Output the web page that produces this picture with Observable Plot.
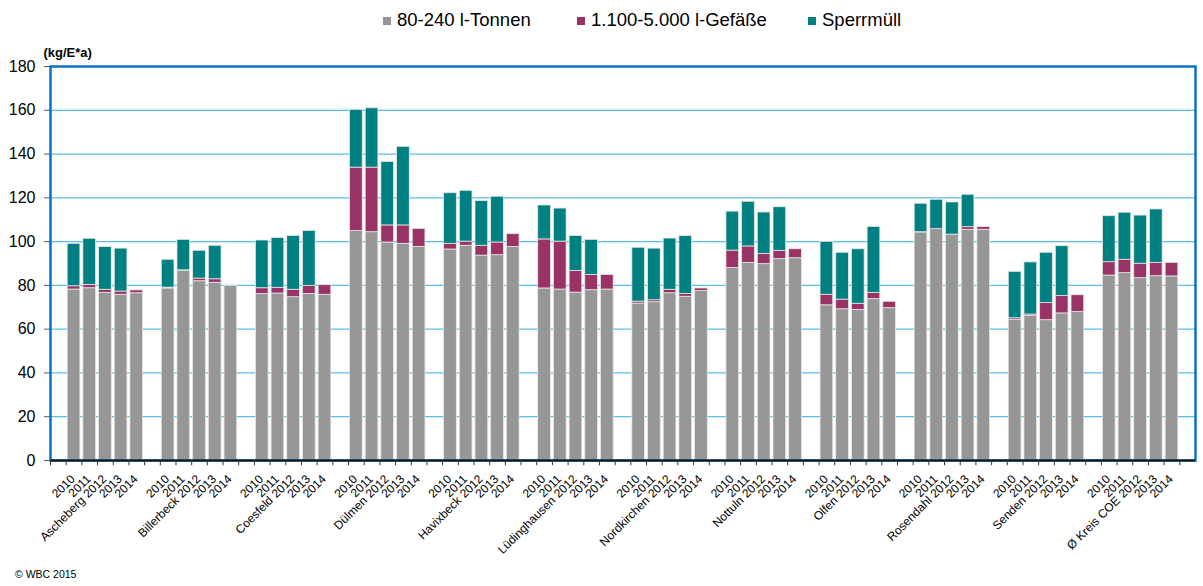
<!DOCTYPE html>
<html>
<head>
<meta charset="utf-8">
<script src="https://cdn.jsdelivr.net/npm/d3@7"></script>
<script src="https://cdn.jsdelivr.net/npm/@observablehq/plot@0.6"></script>
<style>
  body { margin: 0; background: #fff; font-family: "Liberation Sans", Arial, sans-serif; width: 1203px; height: 586px; position: relative; overflow: hidden; }
  #legend { position: relative; height: 38px; }
  .item { position: absolute; top: 9px; display: flex; align-items: center; font-size: 18.5px; color: #000; white-space: nowrap; }
  .sw { width: 8px; height: 8px; margin-right: 6px; margin-top: 2px; }
  #caption { position: absolute; left: 15px; top: 568px; font-size: 10.5px; color: #000; }
</style>
</head>
<body>
<div id="legend"></div>
<div id="chart"></div>
<div id="caption">© WBC 2015</div>
<script>
const groups = ["Ascheberg","Billerbeck","Coesfeld","Dülmen","Havixbeck","Lüdinghausen","Nordkirchen","Nottuln","Olfen","Rosendahl","Senden","Ø Kreis COE"];
const years = ["2010","2011","2012","2013","2014"];
const seriesNames = ["80-240 l-Tonnen","1.100-5.000 l-Gefäße","Sperrmüll"];
const seriesColors = ["#969696","#993366","#008080"];
const yTicks = [0,20,40,60,80,100,120,140,160,180];

// 80-240 l-Tonnen (kg/E*a), per group, years 2010-2014
const tonnen = [
  [78.1,78.7,76.6,75.7,76.4],
  [78.6,86.8,81.9,81.2,79.8],
  [76.0,76.3,74.6,76.1,75.7],
  [104.8,104.3,99.6,99.0,97.6],
  [96.4,98.1,93.6,93.8,97.5],
  [78.6,78.1,76.7,77.8,78.1],
  [71.7,72.3,76.4,74.8,77.4],
  [87.9,90.3,89.7,92.0,92.4],
  [70.9,69.1,68.8,73.7,69.6],
  [104.2,105.7,103.2,105.4,105.4],
  [64.3,66.1,64.1,67.2,67.8],
  [84.5,85.6,83.3,84.2,84.1]
];
// 1.100-5.000 l-Gefäße
const gefaesse = [
  [1.5,1.5,1.4,1.5,1.3],
  [0.4,0.1,1.2,1.6,0],
  [2.7,2.6,3.4,3.7,4.4],
  [29.0,29.5,7.8,8.4,8.2],
  [2.6,1.9,4.5,5.8,5.9],
  [22.4,21.9,9.9,7.0,6.7],
  [0.9,0.9,1.6,1.3,1.2],
  [8.0,7.5,4.7,3.8,4.1],
  [4.8,4.4,2.8,2.9,2.9],
  [0.1,0,0,1.2,1.2],
  [0.7,0.6,7.9,8.0,7.7],
  [6.1,6.1,6.6,6.1,6.2]
];
// Sperrmüll
const sperrmuell = [
  [19.4,21.1,19.5,19.6,0],
  [12.7,13.9,12.7,15.3,0],
  [21.8,22.7,24.6,25.1,0],
  [26.4,27.1,29.0,35.9,0],
  [23.1,23.2,20.4,20.9,0],
  [15.5,15.1,16.0,16.0,0],
  [24.6,23.6,23.4,26.4,0],
  [17.8,20.4,18.9,19.9,0],
  [24.2,21.4,24.9,30.1,0],
  [13.0,13.4,14.7,14.8,0],
  [21.2,23.8,22.9,22.7,0],
  [21.0,21.5,22.0,24.4,0]
];

// Legend
const legend = document.getElementById("legend");
const legendLeft = [383, 577, 808];
seriesNames.forEach((s, i) => {
  const it = document.createElement("div");
  it.className = "item";
  it.style.left = legendLeft[i] + "px";
  it.innerHTML = `<div class="sw" style="background:${seriesColors[i]}"></div><span>${s}</span>`;
  legend.appendChild(it);
});

// Category domain: blank slot between groups and at both ends
const domain = ["_0"];
groups.forEach((g, gi) => {
  years.forEach(y => domain.push(`${g}|${y}`));
  domain.push(`_${gi + 1}`);
});

const seriesData = [tonnen, gefaesse, sperrmuell];
const rows = [];
seriesNames.forEach((s, si) => {
  groups.forEach((g, gi) => {
    years.forEach((y, yi) => {
      const v = seriesData[si][gi][yi];
      if (v > 0) rows.push({key: `${g}|${y}`, series: s, value: v});
    });
  });
});

const yearRows = [];
groups.forEach(g => years.forEach(y => yearRows.push({key: `${g}|${y}`, year: y})));
const groupRows = groups.map(g => ({key: `${g}|2012`, name: g}));

const W = 1203, H = 527, mL = 50, mR = 8, mT = 28, mB = 105;
const step = (W - mL - mR) / domain.length;

const chart = Plot.plot({
  width: W,
  height: H,
  marginLeft: mL,
  marginRight: mR,
  marginTop: mT,
  marginBottom: mB,
  style: {fontFamily: "Liberation Sans, Arial, sans-serif", background: "white", overflow: "visible"},
  x: {type: "band", domain, paddingInner: 0.19, paddingOuter: 0.095, axis: null},
  y: {domain: [0, 180], axis: null},
  color: {domain: seriesNames, range: seriesColors},
  marks: [
    Plot.gridY(yTicks, {stroke: "#5dbde6", strokeOpacity: 1, strokeWidth: 1.2}),
    Plot.barY(rows, {x: "key", y: "value", fill: "series", stroke: "#e6e6e6", strokeWidth: 0.8}),
    Plot.axisY(yTicks, {tickSize: 6, tickPadding: 9, fontSize: 16, stroke: "#555", tickFormat: d => d, label: null}),
    Plot.frame({stroke: "#0a70c4", strokeWidth: 2.5}),
    Plot.ruleY([0], {stroke: "#111", strokeWidth: 2}),
    Plot.ruleX(domain, {x: d => d, y1: 0, y2: -2.4, dx: -step / 2, stroke: "#333", strokeWidth: 1}),
    Plot.text(yearRows, {x: "key", y: 0, text: "year", rotate: -45, textAnchor: "end", dx: -1, dy: 16.5, fontSize: 12, fill: "#000"}),
    Plot.text(groupRows, {x: "key", y: 0, text: "name", rotate: -45, textAnchor: "end", dx: -22.5, dy: 38, fontSize: 12, fill: "#000"}),
    Plot.text(["(kg/E*a)"], {frameAnchor: "top-left", text: d => d, textAnchor: "start", dx: -7, dy: -19, fontSize: 13, fontWeight: "bold", fill: "#000"})
  ]
});
document.getElementById("chart").appendChild(chart);
</script>
</body>
</html>
